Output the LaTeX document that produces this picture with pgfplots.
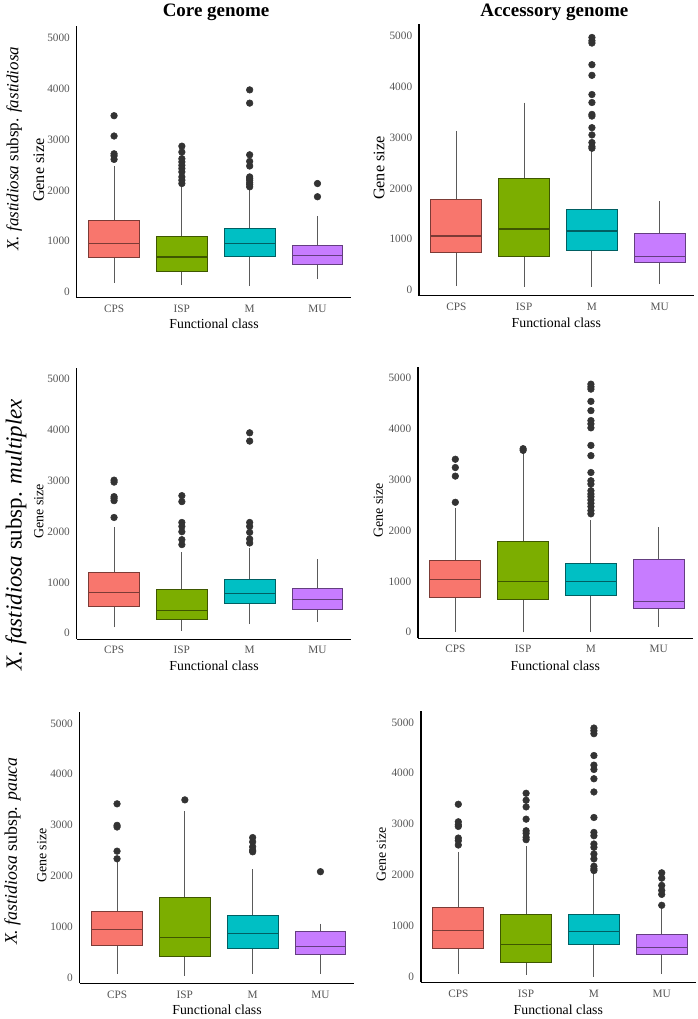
\documentclass[border=0pt]{standalone}
\usepackage{fontspec}
\setmainfont{Liberation Serif}
\usepackage{pgfplots}
\pgfplotsset{compat=1.18}
\usepgfplotslibrary{statistics}
\definecolor{cpsC}{HTML}{F8766D}
\definecolor{ispC}{HTML}{7CAE00}
\definecolor{mC}{HTML}{00BFC4}
\definecolor{muC}{HTML}{C77CFF}
\definecolor{whiskC}{HTML}{5A5A5A}
\definecolor{outC}{HTML}{333333}
\definecolor{tickC}{HTML}{555555}
\pgfplotsset{
  panel/.style={
    scale only axis, width=207pt, height=204.75pt,
    xmin=0.45, xmax=4.5, ymin=-115, ymax=5230,
    axis lines*=left,
    axis line style={black, line width=0.9pt},
    xtick={1,2,3,4}, xticklabels={CPS,ISP,M,MU},
    ytick={0,1000,2000,3000,4000,5000},
    major tick length=0pt,
    /pgf/number format/assume math mode=true,
    /pgf/number format/1000 sep={},
    tick label style={font=\fontsize{8.5}{9}\selectfont, text=tickC},
    yticklabel style={inner sep=0pt, xshift=-5pt},
    xticklabel style={inner sep=0pt, yshift=-5.3pt},
    xlabel={Functional class},
    ylabel={Gene size},
    label style={font=\fontsize{10.4}{12}\selectfont},
    ylabel style={font=\fontsize{10.5}{12}\selectfont},
    boxplot/draw direction=y,
    boxplot/box extend=0.75,
    boxplot/whisker extend=0,
    boxplot/every whisker/.style={draw=whiskC, line width=0.7pt},
    boxplot/every box/.style={line width=0.75pt},
    boxplot/every median/.style={line width=0.9pt},
  },
  leftpanel/.style={panel,
    xlabel style={at={(axis description cs:0.5,-0.097)}, anchor=center},
    ylabel style={at={(axis description cs:-0.138,0.47)}, anchor=center}},
  rightpanel/.style={panel,
    xlabel style={at={(axis description cs:0.5,-0.100)}, anchor=center},
    ylabel style={at={(axis description cs:-0.145,0.47)}, anchor=center}},
  bigylab/.style={ylabel style={font=\fontsize{12.2}{13}\selectfont}},
  bxs/.style={mark=*, mark size=2.5pt, mark options={draw=outC, fill=outC, solid}},
  cps/.style={bxs, fill=cpsC, draw=cpsC!50!black},
  isp/.style={bxs, fill=ispC, draw=ispC!50!black},
  mm/.style={bxs, fill=mC, draw=mC!50!black},
  mu/.style={bxs, fill=muC, draw=muC!50!black},
}
\begin{document}
\begin{tikzpicture}
\path[fill=white] (0pt,0pt) rectangle (525pt,764.25pt);

\node[font=\fontsize{14.3}{16}\selectfont\bfseries] at (162pt,756.4pt) {Core genome};
\node[font=\fontsize{14.3}{16}\selectfont\bfseries] at (417pt,756.4pt) {Accessory genome};
\node[font=\fontsize{12.8}{14}\selectfont, rotate=90] at (9.75pt,654pt) {\textit{X. fastidiosa} subsp. \textit{fastidiosa}};
\node[font=\fontsize{17.3}{19}\selectfont, rotate=90] at (11.25pt,363pt) {\textit{X. fastidiosa} subsp. \textit{multiplex}};
\node[font=\fontsize{13.4}{15}\selectfont, rotate=90] at (8.6pt,124.5pt) {\textit{X. fastidiosa} subsp. \textit{pauca}};

% ---------- Panel 1: core, fastidiosa
\begin{axis}[leftpanel, bigylab, at={(57pt,541.5pt)}, anchor=south west]
\addplot[cps, boxplot prepared={draw position=1, lower whisker=182, lower quartile=670, median=950, upper quartile=1400, upper whisker=2480}]
  table[row sep=\\, y index=0]{y\\3470\\3070\\2720\\2680\\2610\\};
\addplot[isp, boxplot prepared={draw position=2, lower whisker=137, lower quartile=404, median=690, upper quartile=1087, upper whisker=2090}]
  table[row sep=\\, y index=0]{y\\2870\\2754\\2624\\2560\\2493\\2430\\2363\\2265\\2200\\2135\\};
\addplot[mm, boxplot prepared={draw position=3, lower whisker=117, lower quartile=690, median=950, upper quartile=1243, upper whisker=2040}]
  table[row sep=\\, y index=0]{y\\3978\\3717\\2700\\2571\\2480\\2265\\2230\\2200\\2150\\2115\\2070\\};
\addplot[mu, boxplot prepared={draw position=4, lower whisker=247, lower quartile=540, median=716, upper quartile=924, upper whisker=1497}]
  table[row sep=\\, y index=0]{y\\2135\\1875\\};
\end{axis}

% ---------- Panel 2: accessory, fastidiosa
\begin{axis}[rightpanel, bigylab, at={(315pt,543pt)}, anchor=south west]
\addplot[cps, boxplot prepared={draw position=1, lower whisker=78, lower quartile=737, median=1063, upper quartile=1780, upper whisker=3130}]
  coordinates {};
\addplot[isp, boxplot prepared={draw position=2, lower whisker=65, lower quartile=665, median=1200, upper quartile=2204, upper whisker=3690}]
  coordinates {};
\addplot[mm, boxplot prepared={draw position=3, lower whisker=65, lower quartile=782, median=1160, upper quartile=1591, upper whisker=2760}]
  table[row sep=\\, y index=0]{y\\4970\\4905\\4860\\4434\\4225\\3847\\3690\\3456\\3423\\3195\\3052\\2902\\2823\\2790\\};
\addplot[mu, boxplot prepared={draw position=4, lower whisker=117, lower quartile=535, median=665, upper quartile=1108, upper whisker=1747}]
  coordinates {};
\end{axis}

% ---------- Panel 3: core, multiplex
\begin{axis}[leftpanel, at={(57pt,284.25pt)}, anchor=south west]
\addplot[cps, boxplot prepared={draw position=1, lower whisker=117, lower quartile=534, median=801, upper quartile=1198, upper whisker=2083}]
  table[row sep=\\, y index=0]{y\\3014\\2975\\2689\\2656\\2610\\2279\\};
\addplot[isp, boxplot prepared={draw position=2, lower whisker=52, lower quartile=273, median=456, upper quartile=853, upper whisker=1595}]
  table[row sep=\\, y index=0]{y\\2708\\2591\\2181\\2103\\1999\\1842\\1745\\};
\addplot[mm, boxplot prepared={draw position=3, lower whisker=182, lower quartile=579, median=781, upper quartile=1055, upper whisker=1680}]
  table[row sep=\\, y index=0]{y\\3945\\3782\\2181\\2103\\1986\\1855\\1777\\};
\addplot[mu, boxplot prepared={draw position=4, lower whisker=228, lower quartile=469, median=664, upper quartile=879, upper whisker=1452}]
  coordinates {};
\end{axis}

% ---------- Panel 4: accessory, multiplex
\begin{axis}[rightpanel, at={(314.25pt,285pt)}, anchor=south west]
\addplot[cps, boxplot prepared={draw position=1, lower whisker=13, lower quartile=684, median=1035, upper quartile=1419, upper whisker=2441}]
  table[row sep=\\, y index=0]{y\\3405\\3242\\3073\\2558\\};
\addplot[isp, boxplot prepared={draw position=2, lower whisker=0, lower quartile=645, median=996, upper quartile=1784, upper whisker=3548}]
  table[row sep=\\, y index=0]{y\\3613\\3580\\};
\addplot[mm, boxplot prepared={draw position=3, lower whisker=0, lower quartile=723, median=996, upper quartile=1348, upper whisker=2213}]
  table[row sep=\\, y index=0]{y\\4883\\4830\\4785\\4544\\4362\\4166\\4101\\4023\\3678\\3476\\3144\\2982\\2917\\2786\\2721\\2669\\2604\\2539\\2474\\2396\\2331\\};
\addplot[mu, boxplot prepared={draw position=4, lower whisker=111, lower quartile=469, median=605, upper quartile=1432, upper whisker=2070}]
  coordinates {};
\end{axis}

% ---------- Panel 5: core, pauca
\begin{axis}[leftpanel, at={(59.25pt,24.75pt)}, anchor=south west]
\addplot[cps, boxplot prepared={draw position=1, lower whisker=78, lower quartile=638, median=950, upper quartile=1295, upper whisker=2279}]
  table[row sep=\\, y index=0]{y\\3418\\2995\\2962\\2487\\2337\\};
\addplot[isp, boxplot prepared={draw position=2, lower whisker=33, lower quartile=423, median=794, upper quartile=1582, upper whisker=3275}]
  table[row sep=\\, y index=0]{y\\3496\\};
\addplot[mm, boxplot prepared={draw position=3, lower whisker=78, lower quartile=566, median=872, upper quartile=1217, upper whisker=2135}]
  table[row sep=\\, y index=0]{y\\2754\\2669\\2572\\2507\\2474\\};
\addplot[mu, boxplot prepared={draw position=4, lower whisker=78, lower quartile=449, median=605, upper quartile=911, upper whisker=1061}]
  table[row sep=\\, y index=0]{y\\2083\\};
\end{axis}

% ---------- Panel 6: accessory, pauca
\begin{axis}[rightpanel, at={(316.5pt,25.5pt)}, anchor=south west]
\addplot[cps, boxplot prepared={draw position=1, lower whisker=46, lower quartile=548, median=900, upper quartile=1356, upper whisker=2458}]
  table[row sep=\\, y index=0]{y\\3390\\3045\\2986\\2954\\2725\\2673\\2588\\};
\addplot[isp, boxplot prepared={draw position=2, lower whisker=33, lower quartile=280, median=632, upper quartile=1213, upper whisker=2562}]
  table[row sep=\\, y index=0]{y\\3606\\3469\\3338\\3097\\2869\\2817\\2738\\2693\\};
\addplot[mm, boxplot prepared={draw position=3, lower whisker=0, lower quartile=626, median=893, upper quartile=1213, upper whisker=2041}]
  table[row sep=\\, y index=0]{y\\4890\\4838\\4779\\4349\\4160\\4075\\3892\\3632\\3130\\2836\\2771\\2608\\2543\\2412\\2315\\2171\\2119\\2086\\};
\addplot[mu, boxplot prepared={draw position=4, lower whisker=46, lower quartile=443, median=567, upper quartile=828, upper whisker=1330}]
  table[row sep=\\, y index=0]{y\\2041\\1936\\1793\\1695\\1617\\1402\\};
\end{axis}
\end{tikzpicture}
\end{document}
